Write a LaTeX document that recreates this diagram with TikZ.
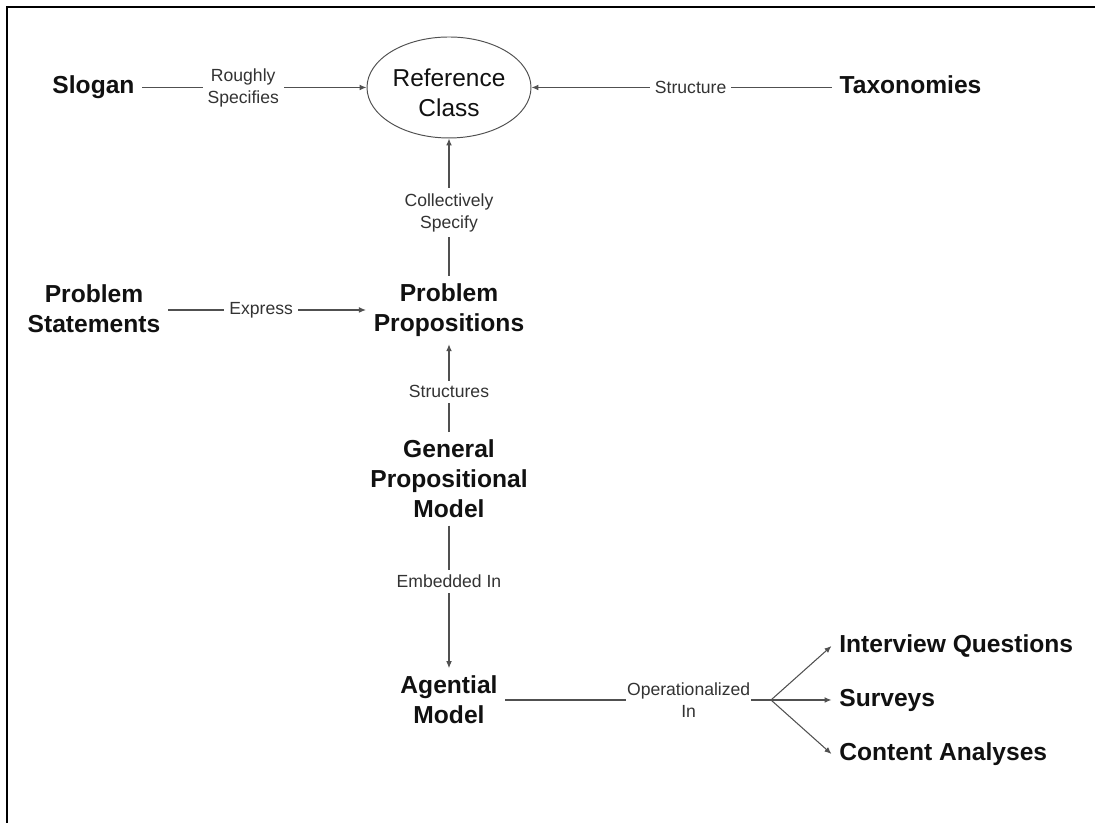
\documentclass[tikz,border=0pt]{standalone}
\usepackage{fontspec}
\setmainfont{Liberation Sans}
\usetikzlibrary{shapes.geometric, arrows.meta, positioning}
\definecolor{cmline}{HTML}{505050}
\definecolor{cmtext}{HTML}{111111}
\definecolor{cmlabel}{HTML}{333333}

\begin{document}
\begin{tikzpicture}[
    concept/.style={font=\fontsize{14}{17}\selectfont\bfseries, text=cmtext, align=center, inner sep=0.15cm},
    hub/.style={ellipse, draw=cmline, line width=0.55pt, minimum width=3.28cm, minimum height=2.02cm, inner sep=0pt, align=center, font=\fontsize{13.9}{17}\selectfont, text=cmtext},
    relname/.style={font=\fontsize{10}{12.5}\selectfont, text=cmlabel, fill=white, align=center, inner sep=0.1cm},
    link/.style={draw=cmline, line width=0.6pt},
    flow/.style={link, -{Latex[length=1.4mm, width=1.15mm]}}
]
\useasboundingbox (0,0) rectangle (21.9,16.46);
\draw[line width=1.1pt] (21.9,16.32) -- (0.14,16.32) -- (0.14,0);

\node[concept] (slogan) at (1.87,14.71) {Slogan};
\node[hub] (refclass) at (8.98,14.71) {\rule{0pt}{16.5pt}Reference\\Class};
\node[concept, text depth=0.12cm] (taxon) at (18.21,14.71) {Taxonomies};
\node[concept] (probstat) at (1.88,10.28) {Problem\\Statements};
\node[concept] (probprop) at (8.98,10.26) {Problem\\Propositions};
\node[concept] (genmodel) at (8.98,6.88) {General\\Propositional\\Model};
\node[concept] (agential) at (8.98,2.46) {Agential\\Model};
\coordinate (split) at (15.42,2.46);
\node[concept, anchor=west] (interview) at (16.63,3.54) {Interview Questions};
\node[concept, anchor=west] (surveys) at (16.63,2.46) {Surveys};
\node[concept, anchor=west] (content) at (16.63,1.38) {Content Analyses};

\draw[flow] (slogan.east) -- node[relname, pos=0.45] {Roughly\\Specifies} (refclass.west);
\draw[flow] (taxon.west) -- node[relname, pos=0.47] {Structure} (refclass.east);
\draw[flow] (probprop.north) -- node[relname, pos=0.46] {Collectively\\Specify} (refclass.south);
\draw[flow] (probstat.east |- probprop) -- node[relname, pos=0.47] {Express} (probprop.west);
\draw[flow] (genmodel.north) -- node[relname, pos=0.46] {Structures} (probprop.south);
\draw[flow] (genmodel.south) -- node[relname, pos=0.39] {Embedded In} (agential.north);
\draw[link] (agential.east) -- node[relname, pos=0.69, inner sep=0.02cm] {Operationalized\\In} (split);
\foreach \t in {interview, surveys, content}
    \draw[flow] (split) -- (\t.west);
\end{tikzpicture}
\end{document}
